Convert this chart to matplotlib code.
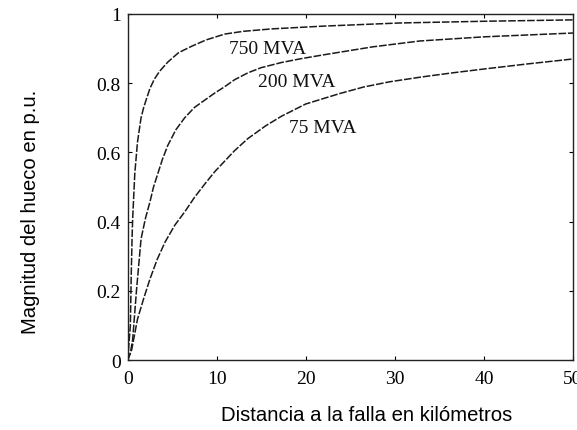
import matplotlib
matplotlib.use('Agg')
import matplotlib.pyplot as plt

# distance to fault (km) and sag magnitude (p.u.)
x_750 = [0, 0.3, 0.4, 0.5, 0.56, 0.8, 1.1, 1.5, 1.8, 2.1, 2.5, 3.0, 3.6, 4.5, 5.7, 7.2, 8.8,
         10.9, 13, 16.2, 22, 30.5, 40, 50]
y_750 = [0, 0.10, 0.25, 0.36, 0.41, 0.54, 0.63, 0.70, 0.73, 0.754, 0.785, 0.812, 0.835, 0.861,
         0.888, 0.907, 0.925, 0.942, 0.950, 0.957, 0.965, 0.974, 0.979, 0.983]

x_200 = [0, 0.3, 0.56, 1.0, 1.5, 2.0, 2.5, 2.9, 3.4, 3.9, 4.5, 5.4, 6.4, 7.5, 8.7, 9.8, 10.9,
         12, 13.5, 15, 17.3, 19.5, 22, 27.5, 32.8, 40, 50]
y_200 = [0, 0.02, 0.06, 0.205, 0.35, 0.41, 0.457, 0.50, 0.54, 0.58, 0.62, 0.665, 0.70, 0.73,
         0.752, 0.772, 0.79, 0.81, 0.83, 0.845, 0.86, 0.871, 0.882, 0.905, 0.922, 0.934, 0.945]

x_75 = [0, 0.45, 1.1, 1.8, 2.5, 3.3, 4.2, 5.3, 6.4, 7.5, 8.7, 9.8, 10.9, 12, 13.5, 15.5, 17.3,
        20, 23.8, 26.5, 29.4, 33, 36.5, 40, 45, 50]
y_75 = [0, 0.03, 0.118, 0.178, 0.234, 0.29, 0.341, 0.39, 0.428, 0.47, 0.51, 0.545, 0.575,
        0.605, 0.64, 0.677, 0.705, 0.74, 0.77, 0.789, 0.804, 0.818, 0.83, 0.841, 0.856, 0.87]

labels = ['750 MVA', '200 MVA', '75 MVA']
label_pos = [(15.7, 0.90), (19.0, 0.806), (21.9, 0.673)]

x_ticks = [0, 10, 20, 30, 40, 50]
y_ticks = [0, 0.2, 0.4, 0.6, 0.8, 1]
y_ticklabels = ['0', '0.2', '0.4', '0.6', '0.8', '1']

fig = plt.figure(figsize=(5.77, 4.31), dpi=100)
ax = fig.add_axes([0.2213, 0.1624, 0.7717, 0.8028])

for xs, ys in [(x_750, y_750), (x_200, y_200), (x_75, y_75)]:
    ax.plot(xs, ys, color='#1a1a1a', linewidth=1.1, linestyle=(0, (5, 1.2)))

serif = ['Liberation Serif', 'DejaVu Serif']
for txt, (tx, ty) in zip(labels, label_pos):
    ax.text(tx, ty, txt, ha='center', va='center', fontsize=14, family=serif, color='#111')

ax.set_xlim(0, 50)
ax.set_ylim(0, 1)
ax.set_xticks(x_ticks)
ax.set_yticks(y_ticks)
ax.set_yticklabels(y_ticklabels)
ax.tick_params(direction='in', length=3, top=True, right=True, labelsize=14)
ax.tick_params(axis='x', pad=7)
ax.tick_params(axis='y', pad=5)
for lab in ax.get_xticklabels() + ax.get_yticklabels():
    lab.set_family(serif)
for sp in ax.spines.values():
    sp.set_linewidth(1.0)
    sp.set_color('#222')

sans = ['Liberation Sans', 'DejaVu Sans']
fig.text(0.052, 0.508, 'Magnitud del hueco en p.u.', rotation=90, ha='center', va='center',
         fontsize=14.6, family=sans)
fig.text(0.635, 0.037, 'Distancia a la falla en kilómetros', ha='center', va='center',
         fontsize=14.6, family=sans)

fig.savefig('out.png', dpi=100)
